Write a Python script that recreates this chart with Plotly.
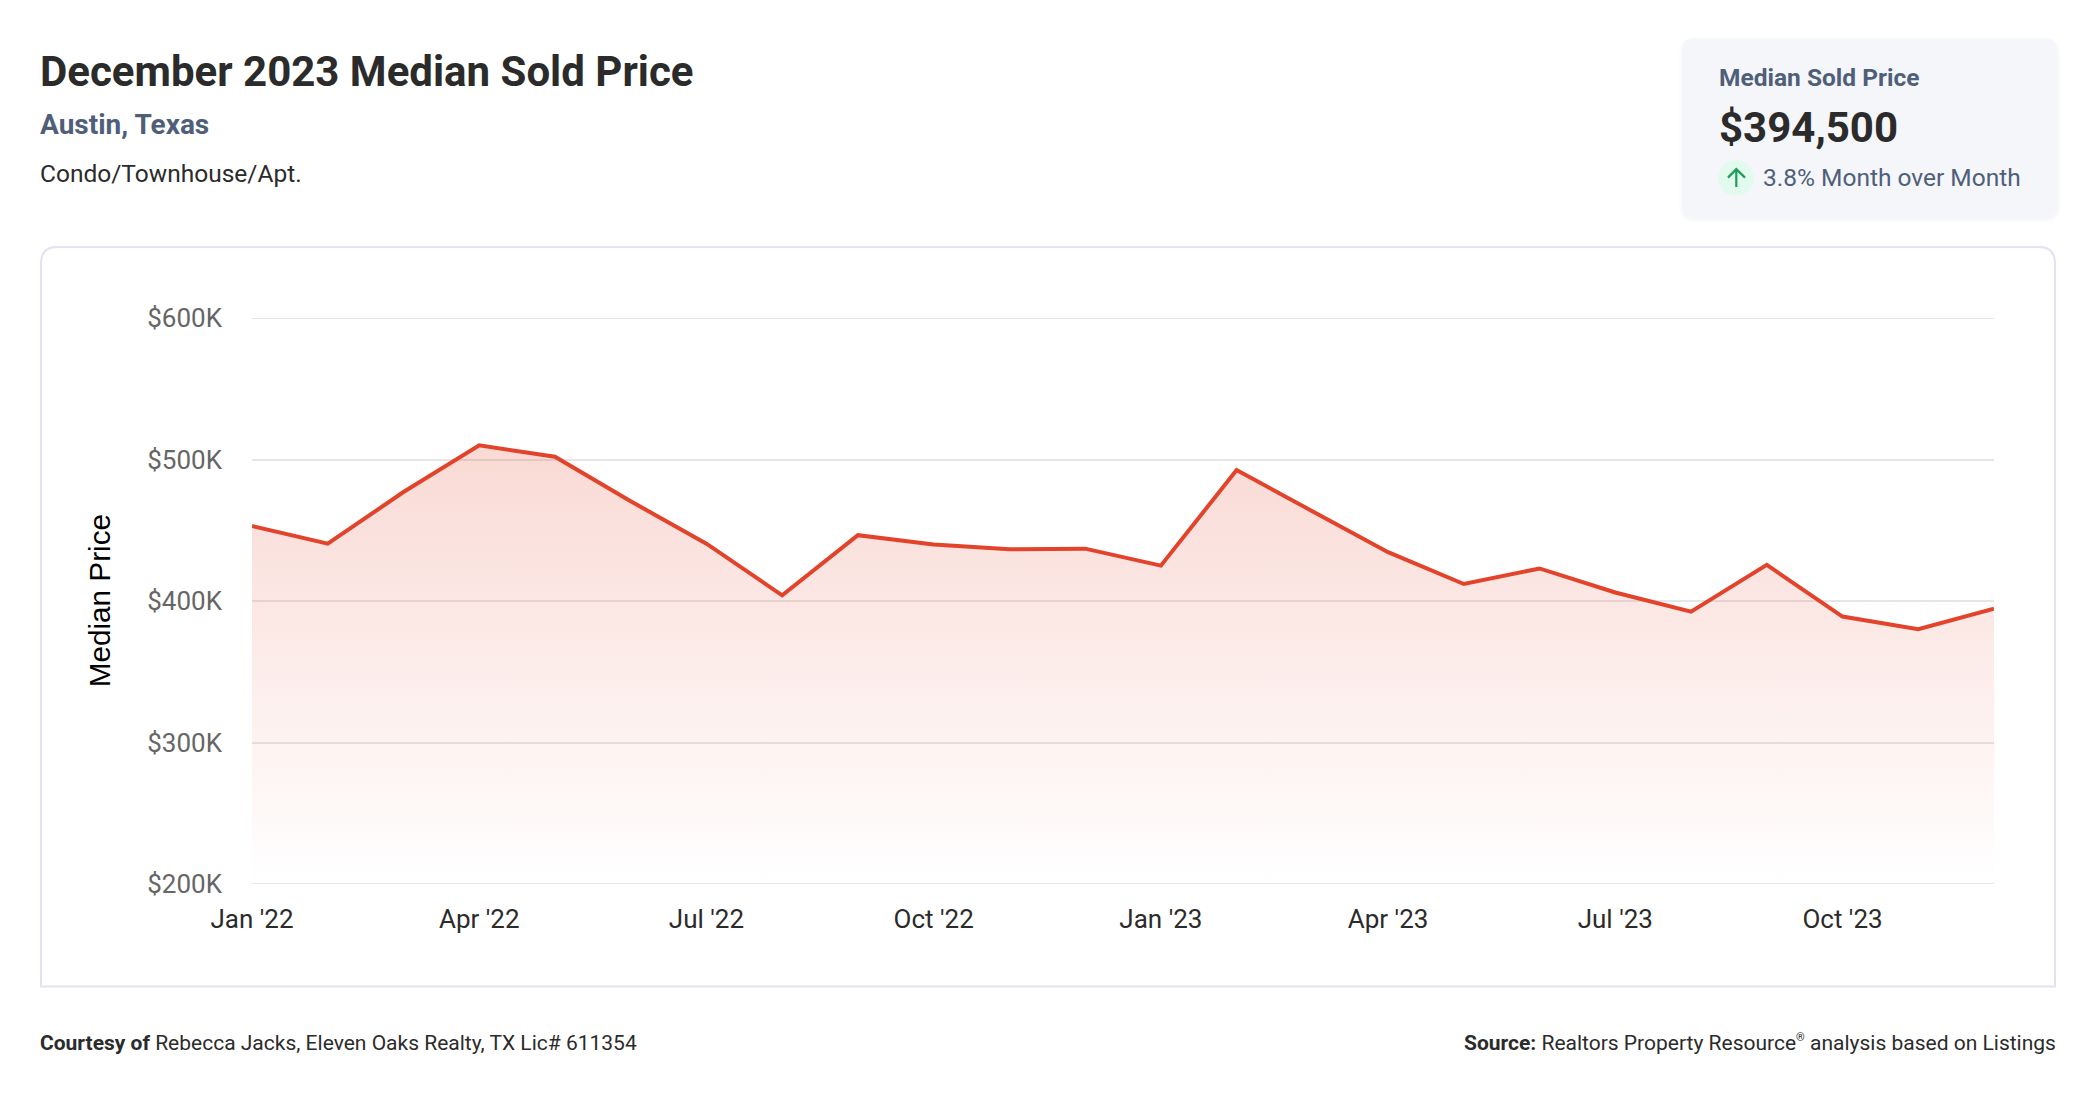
import plotly.graph_objects as go

# ---- chart data ----
months = ["Jan '22", "Feb '22", "Mar '22", "Apr '22", "May '22", "Jun '22",
          "Jul '22", "Aug '22", "Sep '22", "Oct '22", "Nov '22", "Dec '22",
          "Jan '23", "Feb '23", "Mar '23", "Apr '23", "May '23", "Jun '23",
          "Jul '23", "Aug '23", "Sep '23", "Oct '23", "Nov '23", "Dec '23"]
median_price = [453000, 440500, 477000, 510000, 502000, 470500,
                440500, 404000, 446500, 440000, 436500, 437000,
                425000, 492500, 463500, 434500, 412000, 423000,
                406000, 392500, 425500, 389000, 380000, 394500]
x_tick_labels = months[::3]
y_tick_values = [200000, 300000, 400000, 500000, 600000]
y_tick_labels = ["$200K", "$300K", "$400K", "$500K", "$600K"]
edge_gridlines = [200000, 600000]

W, H = 2096, 1100
L, R, T, B = 252, 1994, 318, 884.5
FONT = "Roboto"
INK = "#2b2b2b"
SLATE = "#4f5f7a"
GRID = "#e6e6e6"


def px(x):
    return (x - L) / (R - L)


def py(y):
    return (B - y) / (B - T)


def text(x, y, s, size, color=INK, anchor="left", family=FONT, angle=0):
    return dict(xref="paper", yref="paper", x=px(x), y=py(y), text=s, showarrow=False,
                xanchor=anchor, yanchor="middle", textangle=angle, borderpad=0, borderwidth=0,
                font=dict(family=family, size=size, color=color))


def rrect(x0, y0, x1, y1, r, bottom_round=True):
    rb = r if bottom_round else 0
    p = f"M{px(x0 + r)},{py(y0)} L{px(x1 - r)},{py(y0)} Q{px(x1)},{py(y0)} {px(x1)},{py(y0 + r)} "
    p += f"L{px(x1)},{py(y1 - rb)} Q{px(x1)},{py(y1)} {px(x1 - rb)},{py(y1)} "
    p += f"L{px(x0 + rb)},{py(y1)} Q{px(x0)},{py(y1)} {px(x0)},{py(y1 - rb)} "
    p += f"L{px(x0)},{py(y0 + r)} Q{px(x0)},{py(y0)} {px(x0 + r)},{py(y0)} Z"
    return p


def shape_path(path, fill=None, line=None, width=0, layer="below"):
    return dict(type="path", xref="paper", yref="paper", path=path, layer=layer,
                fillcolor=fill or "rgba(0,0,0,0)",
                line=dict(color=line or "rgba(0,0,0,0)", width=width))


fig = go.Figure(go.Scatter(
    x=months, y=median_price, mode="lines",
    line=dict(color="#e2432a", width=4),
    fill="tozeroy",
    fillgradient=dict(type="vertical",
                      start=511000, stop=200000,
                      colorscale=[[0, "rgba(226,67,42,0.20)"], [1, "rgba(226,67,42,0.0)"]]),
    hoverinfo="skip", showlegend=False,
))

shapes = []
# card shadow
for grow, alpha in [(4, 0.007), (2.5, 0.010), (1, 0.014)]:
    shapes.append(shape_path(rrect(1682 - grow + 1, 38 - grow + 3, 2056 + grow + 1, 216 + grow + 3, 12 + grow),
                             fill=f"rgba(30,40,70,{alpha})"))
shapes.append(shape_path(rrect(1682, 38, 2056, 216, 12), fill="#f5f6fa"))
# chart panel
shapes.append(shape_path(rrect(41, 247, 2055, 987, 16, bottom_round=False), line="#dfe4ee", width=2))
# gridlines at the two ends of the value range
for v in edge_gridlines:
    shapes.append(dict(type="line", xref="paper", yref="y", x0=0, x1=1, y0=v, y1=v,
                       layer="below", line=dict(color=GRID, width=2)))
# arrow badge
shapes.append(dict(type="circle", xref="paper", yref="paper", layer="below",
                   x0=px(1718), x1=px(1754), y0=py(160), y1=py(196),
                   fillcolor="#e3fbee", line=dict(width=0)))
arrow = f"M{px(1736.3)},{py(187)} L{px(1736.3)},{py(169)} M{px(1728)},{py(177.5)} L{px(1736.3)},{py(169)} L{px(1745)},{py(177.5)}"
shapes.append(shape_path(arrow, line="#1e9e5a", width=2.2, layer="above"))

annotations = [
    text(40, 71, "<b>December 2023 Median Sold Price</b>", 42),
    text(40, 124.3, "<b>Austin, Texas</b>", 28, SLATE),
    text(40, 173.3, "Condo/Townhouse/Apt.", 24.5),
    text(1719, 77.3, "<b>Median Sold Price</b>", 24.5, SLATE),
    text(1719, 127, "<b>$394,500</b>", 42),
    text(1763, 177, "3.8% Month over Month", 24.5, SLATE),
    text(99, 601.5, "Median Price", 29.7, "#000000", "center", "Liberation Sans", -90),
    text(40, 1044, "<b>Courtesy of</b> Rebecca Jacks, Eleven Oaks Realty, TX Lic# 611354", 21),
    text(2056, 1043.5, "<b>Source:</b> Realtors Property Resource<sup><span style=\"font-size:11px\">®</span></sup> analysis based on Listings", 21, anchor="right"),
]

fig.update_layout(
    width=W, height=H, autosize=False,
    margin=dict(l=L, r=W - R, t=T, b=H - B, pad=0),
    paper_bgcolor="white", plot_bgcolor="white",
    font=dict(family=FONT),
    shapes=shapes, annotations=annotations,
    xaxis=dict(type="category", categoryorder="array", categoryarray=months,
               range=[0, len(months) - 1], tickmode="array", tickvals=x_tick_labels,
               ticktext=x_tick_labels, showgrid=False, zeroline=False, showline=False,
               ticks="", ticklabelstandoff=17,
               tickfont=dict(family=FONT, size=26, color=INK)),
    yaxis=dict(range=[200000, 600000], tickmode="array", tickvals=y_tick_values,
               ticktext=y_tick_labels, showgrid=True, gridcolor=GRID, gridwidth=2,
               zeroline=False, showline=False, ticks="", ticklabelstandoff=29,
               tickfont=dict(family=FONT, size=26, color="#666666")),
)

fig.write_html("out.html", config=dict(displayModeBar=False),
               post_script="document.body.style.margin='0';document.documentElement.style.overflow='hidden';")
